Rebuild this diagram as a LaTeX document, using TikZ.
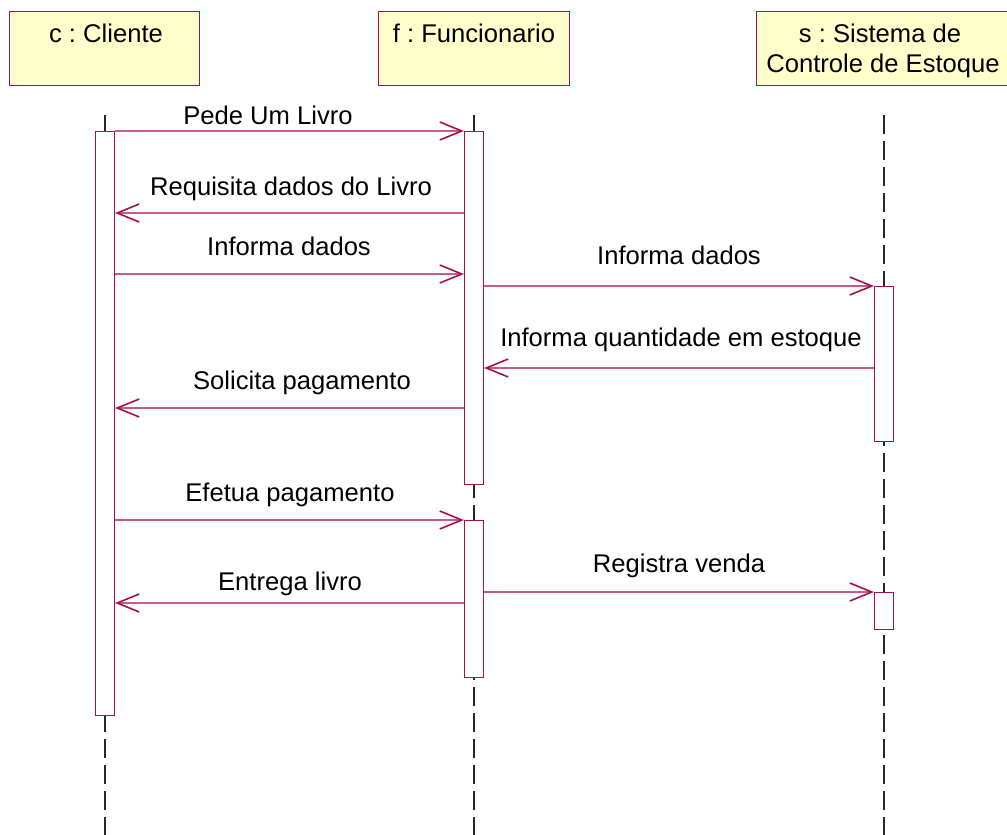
\documentclass[tikz,border=0pt]{standalone}
\usepackage{fontspec}
\setmainfont{Liberation Sans}
\usetikzlibrary{arrows.meta}
\frenchspacing
\definecolor{umlred}{RGB}{168,16,76}
\definecolor{umlpink}{RGB}{200,90,140}
\definecolor{umlfill}{RGB}{255,255,204}
\definecolor{lifegray}{RGB}{40,40,40}
\begin{document}
\begin{tikzpicture}[x=1pt,y=-1pt,
  font=\fontsize{25.6}{30}\selectfont,
  headbox/.style={draw=umlred, fill=umlfill, line width=1.2pt, minimum height=74pt, inner sep=0pt, anchor=north west},
  actbox/.style={draw=umlred, fill=white, line width=1.2pt, minimum width=19pt, inner sep=0pt, anchor=north},
  lifeline/.style={draw=lifegray, line width=1.3pt, dash pattern=on 19pt off 7pt},
  msg/.style={draw=umlpink, line width=1.2pt, -{Straight Barb[length=22pt,width=18pt,line width=1.6pt,color=umlred]}},
  lbl/.style={anchor=base, inner sep=0pt}
]
\useasboundingbox (0,0) rectangle (1007,835);

% object headers
\node[headbox, minimum width=190pt] (hc) at (9,11) {};
\node[headbox, minimum width=191pt] (hf) at (378,11) {};
\node[headbox, minimum width=260pt] (hs) at (756,11) {};
\node[lbl] (tc) at (106,42) {c : Cliente};
\node[lbl] (tf) at (474,42) {f : Funcionario};
\node[lbl] (ts1) at (880,42) {s : Sistema de};
\node[lbl] (ts2) at (883,72) {Controle de Estoque};

% lifelines
\coordinate (lc0) at (105,115); \coordinate (lc1) at (105,835);
\coordinate (lf0) at (474,115); \coordinate (lf1) at (474,835);
\coordinate (ls0) at (884,115); \coordinate (ls1) at (884,835);
\draw[lifeline] (lc0) -- (lc1);
\draw[lifeline] (lf0) -- (lf1);
\draw[lifeline] (ls0) -- (ls1);

% activation bars
\node[actbox, minimum height=584pt] (ac) at (105,131) {};
\node[actbox, minimum height=353pt] (af1) at (474,131) {};
\node[actbox, minimum height=157pt] (af2) at (474,520) {};
\node[actbox, minimum height=155pt] (as1) at (884,286) {};
\node[actbox, minimum height=37pt] (as2) at (884,592) {};

% messages
\draw[msg] (ac.east |- 0,131) -- (af1.west |- 0,131);
\node[lbl] (m1) at (268,124) {Pede Um Livro};

\draw[msg] (af1.west |- 0,213) -- (ac.east |- 0,213);
\node[lbl] (m2) at (291,195) {Requisita dados do Livro};

\draw[msg] (ac.east |- 0,274) -- (af1.west |- 0,274);
\node[lbl] (m3) at (289,255) {Informa dados};

\draw[msg] (af1.east |- 0,286) -- (as1.west |- 0,286);
\node[lbl] (m4) at (679,264) {Informa dados};

\draw[msg] (as1.west |- 0,368) -- (af1.east |- 0,368);
\node[lbl] (m5) at (681,346) {Informa quantidade em estoque};

\draw[msg] (af1.west |- 0,408) -- (ac.east |- 0,408);
\node[lbl] (m6) at (302,389) {Solicita pagamento};

\draw[msg] (ac.east |- 0,520) -- (af2.west |- 0,520);
\node[lbl] (m7) at (290,501) {Efetua pagamento};

\draw[msg] (af2.west |- 0,603) -- (ac.east |- 0,603);
\node[lbl] (m8) at (290,590) {Entrega livro};

\draw[msg] (af2.east |- 0,592) -- (as2.west |- 0,592);
\node[lbl] (m9) at (679,572) {Registra venda};
\end{tikzpicture}
\end{document}
